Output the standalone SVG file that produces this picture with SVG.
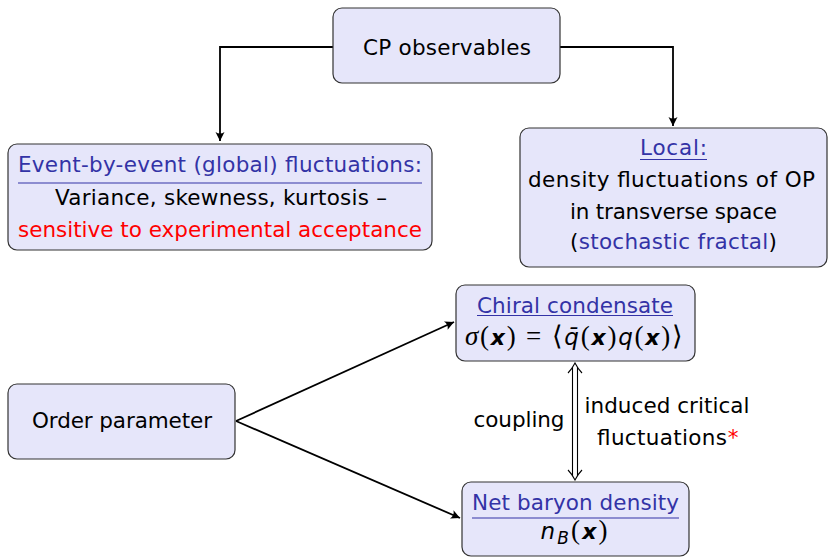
<svg xmlns="http://www.w3.org/2000/svg" width="828" height="557" viewBox="0 0 828 557">
<style>
.box{fill:#E6E6FA;stroke:#333;stroke-width:1.2}
.t{font-family:"DejaVu Sans",sans-serif;font-size:21.5px;fill:#000;text-anchor:middle}
.b{fill:#3333A6}
.r{fill:#FF0000}
.ul{stroke:#3333A6;stroke-width:1}
.con{fill:none;stroke:#000;stroke-width:1.8}
.m{font-family:"Liberation Serif",serif}
.mi{font-family:"Liberation Serif",serif;font-style:italic}
.bx{font-family:"DejaVu Sans",sans-serif;font-weight:bold;font-style:oblique}
.si{font-family:"DejaVu Sans",sans-serif;font-style:oblique}
</style>
<defs>
<marker id="ah" markerWidth="12" markerHeight="12" refX="10" refY="6" orient="auto" markerUnits="userSpaceOnUse">
<path d="M10,6 L1,1.5 Q4,6 1,10.5 Z" fill="#000"/>
</marker>
</defs>
<g id="connectors">
<path class="con" d="M333,47 H220 V141" marker-end="url(#ah)"/>
<path class="con" d="M560,47 H673 V126" marker-end="url(#ah)"/>
<path class="con" d="M236,421 L454,322" marker-end="url(#ah)"/>
<path class="con" d="M236,421 L460,518" marker-end="url(#ah)"/>
<g fill="none" stroke="#000" stroke-width="1.1">
<line x1="572.5" y1="367" x2="572.5" y2="476"/>
<line x1="577.5" y1="367" x2="577.5" y2="476"/>
<path d="M568,373 Q572,369 575,363 Q578,369 582,373"/>
<path d="M568,470 Q572,474 575,480 Q578,474 582,470"/>
</g>
<text class="t" x="519" y="427" text-anchor="middle" textLength="91">coupling</text>
<text class="t" x="667" y="413" textLength="165">induced critical</text>
<text class="t" x="662" y="445" textLength="130">fluctuations</text>
<text class="t r" x="733" y="445" style="text-anchor:middle">*</text>
</g>
<g id="cp">
<rect class="box" x="333" y="8" width="227" height="75" rx="9"/>
<text class="t" x="447" y="55" textLength="168">CP observables</text>
</g>
<g id="event">
<rect class="box" x="8" y="144" width="424" height="106" rx="9"/>
<text class="t b" x="220" y="172" textLength="404">Event-by-event (global) fluctuations:</text>
<line class="ul" x1="18" y1="183" x2="422" y2="183"/>
<text class="t" x="221" y="205" textLength="332">Variance, skewness, kurtosis –</text>
<text class="t r" x="220" y="237" textLength="404">sensitive to experimental acceptance</text>
</g>
<g id="local">
<rect class="box" x="520" y="128" width="307" height="139" rx="9"/>
<text class="t b" x="673.5" y="155" textLength="67">Local:</text>
<line class="ul" x1="640" y1="159.5" x2="707" y2="159.5"/>
<text class="t" x="671.5" y="187" textLength="287">density fluctuations of OP</text>
<text class="t" x="673.5" y="218.5" textLength="207">in transverse space</text>
<text class="t" x="673.5" y="248.5" textLength="207">(<tspan class="b">stochastic fractal</tspan>)</text>
</g>
<g id="order">
<rect class="box" x="8" y="384" width="227" height="75" rx="9"/>
<text class="t" x="122" y="428" textLength="180">Order parameter</text>
</g>
<g id="chiral">
<rect class="box" x="456" y="285" width="239" height="76" rx="9"/>
<text class="t b" x="575" y="313" textLength="196">Chiral condensate</text>
<line class="ul" x1="477" y1="315.5" x2="673" y2="315.5"/>
<text class="t" x="574" y="345" style="font-size:27px" textLength="218"><tspan class="mi">σ</tspan><tspan class="m">(</tspan><tspan class="bx" style="font-size:22px">x</tspan><tspan class="m">) = ⟨</tspan><tspan class="si" style="font-size:23px">q̄</tspan><tspan class="m">(</tspan><tspan class="bx" style="font-size:22px">x</tspan><tspan class="m">)</tspan><tspan class="si" style="font-size:23px">q</tspan><tspan class="m">(</tspan><tspan class="bx" style="font-size:22px">x</tspan><tspan class="m">)⟩</tspan></text>
</g>
<g id="baryon">
<rect class="box" x="462" y="482" width="227" height="74" rx="9"/>
<text class="t b" x="575.5" y="510" textLength="207">Net baryon density</text>
<line class="ul" x1="472" y1="518" x2="679" y2="518"/>
<text class="t" x="574" y="539" style="font-size:27px" textLength="67"><tspan class="si" style="font-size:23px">n</tspan><tspan class="si" style="font-size:17px" dy="5">B</tspan><tspan class="m" dy="-5">(</tspan><tspan class="bx" style="font-size:22px">x</tspan><tspan class="m">)</tspan></text>
</g>
</svg>
